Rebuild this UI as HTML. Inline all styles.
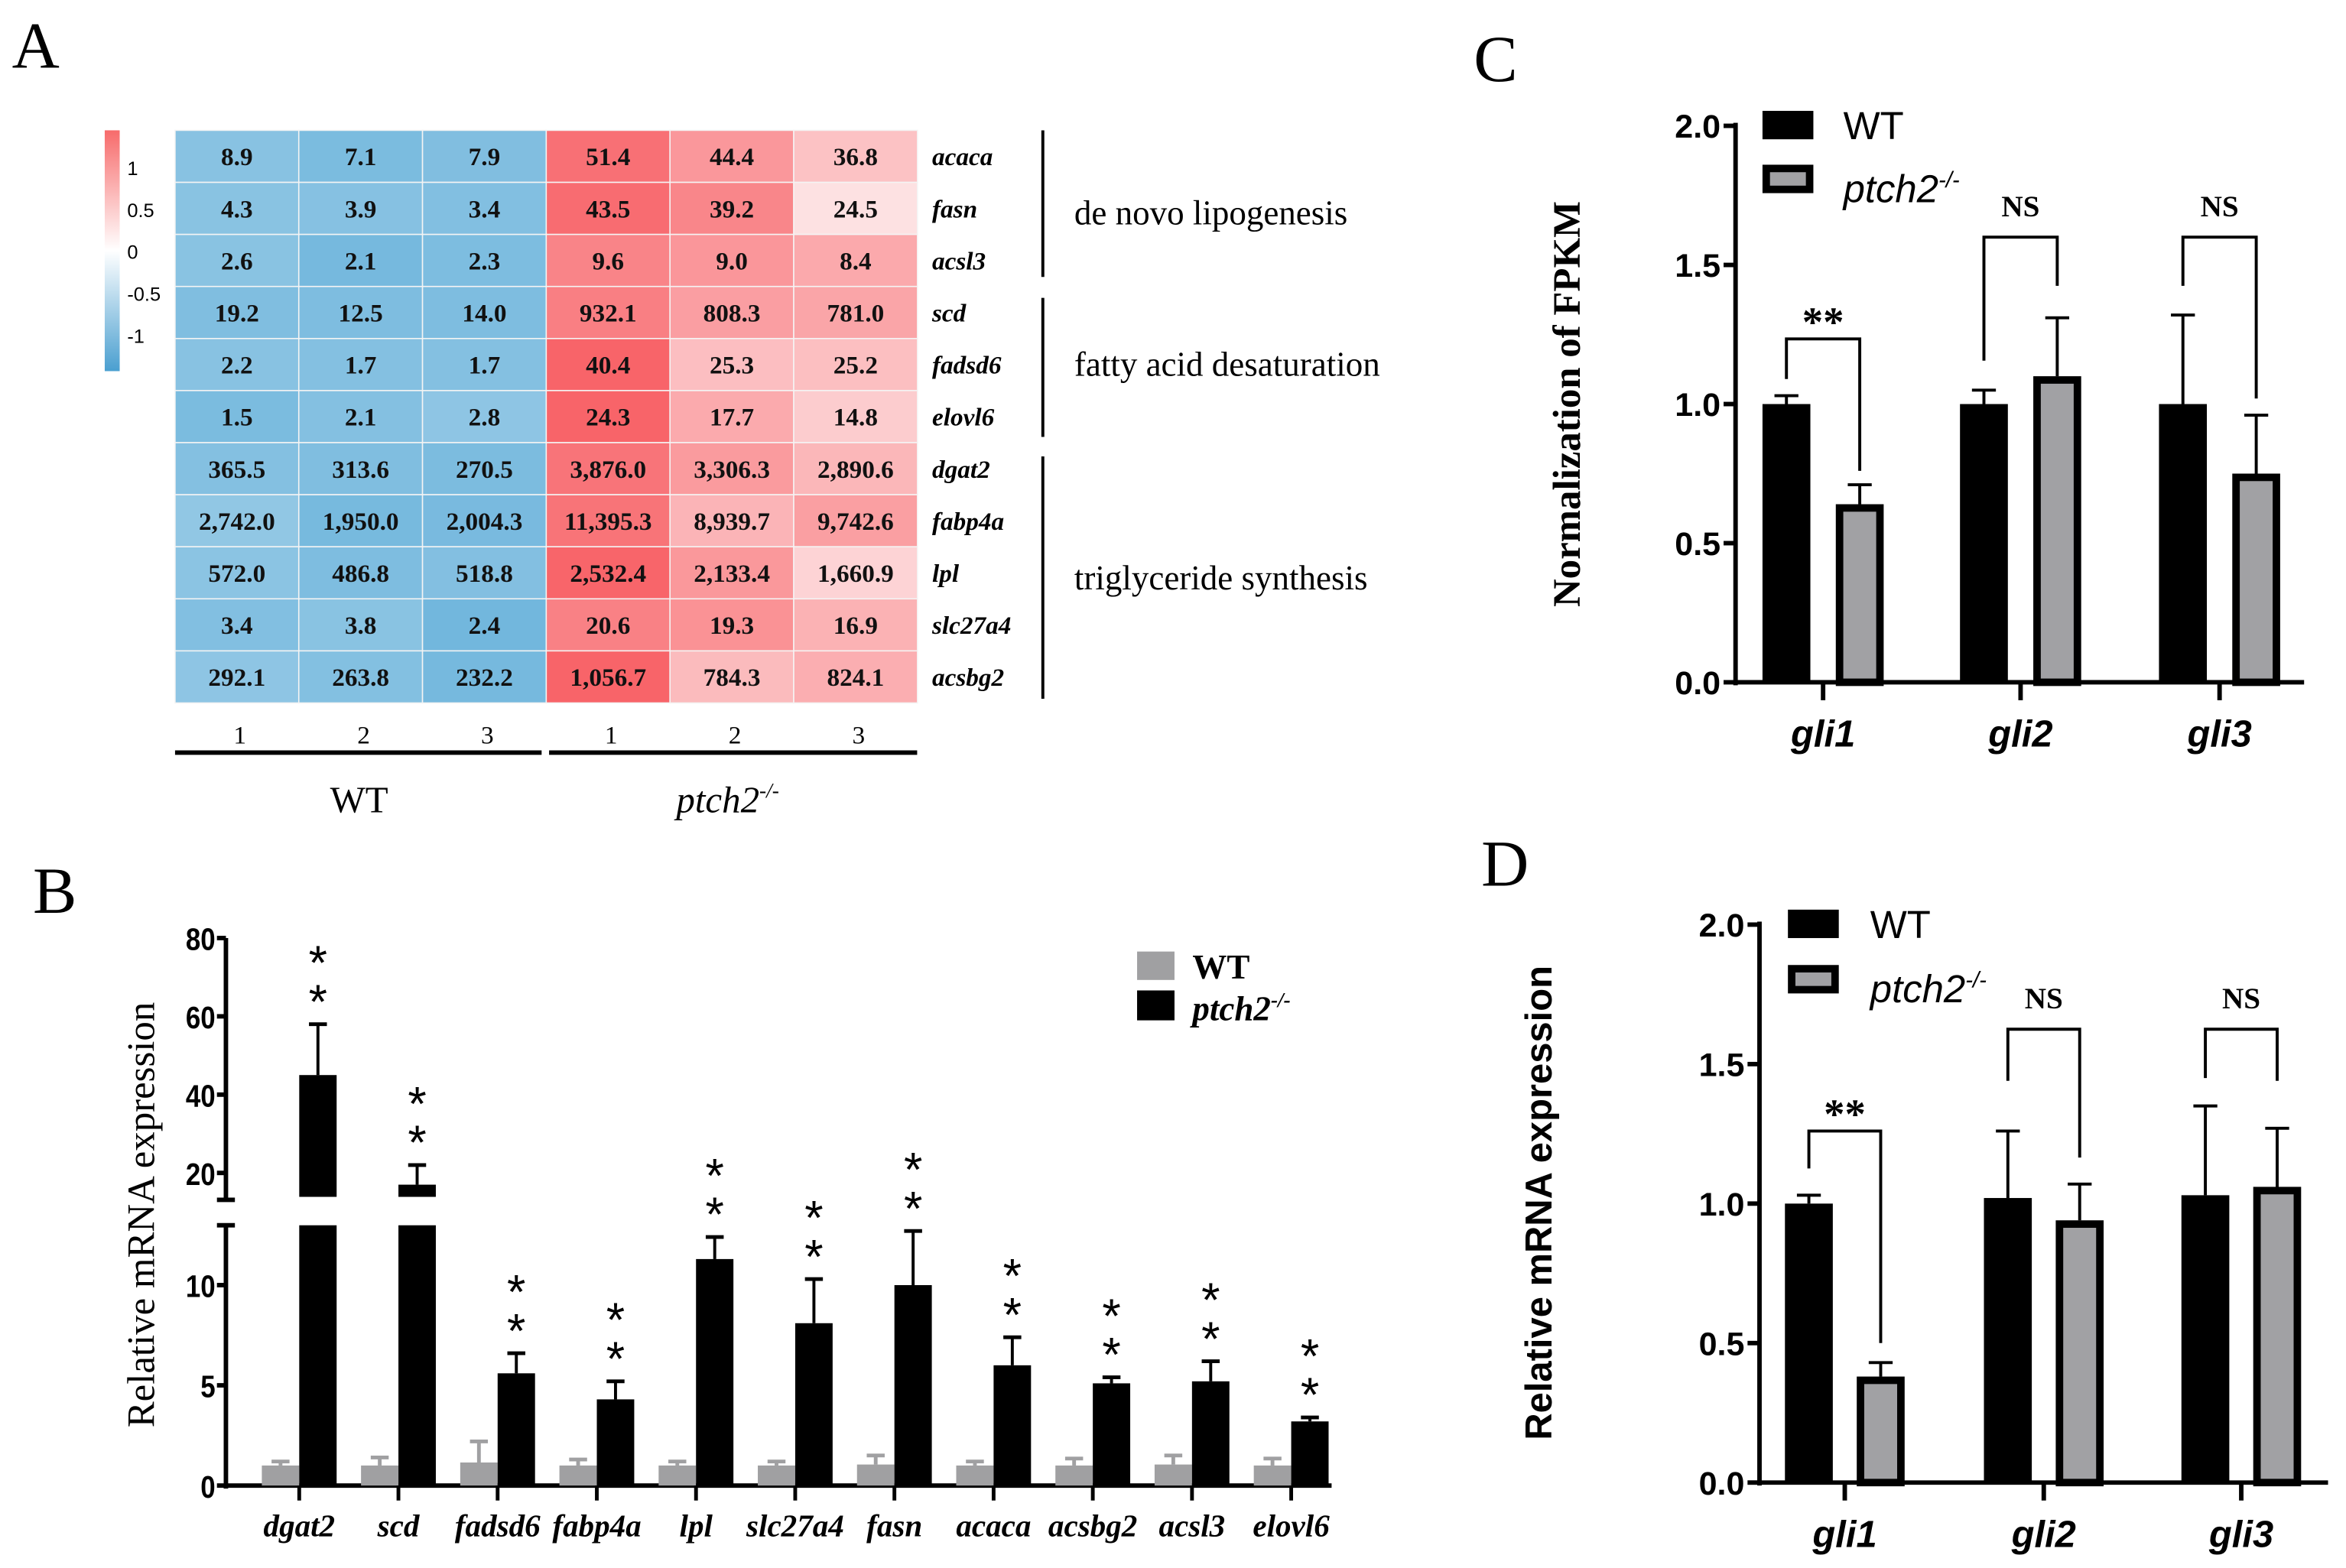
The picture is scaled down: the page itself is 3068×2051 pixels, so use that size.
<!DOCTYPE html>
<html><head><meta charset="utf-8"><style>
html,body{margin:0;padding:0;background:#fff}
svg{display:block}
.serif{font-family:"Liberation Serif",serif}
.sans{font-family:"Liberation Sans",sans-serif}
</style></head><body>
<svg id="fig" width="3068" height="2051" viewBox="0 0 1568 1048" xmlns="http://www.w3.org/2000/svg">
<rect width="1568" height="1048" fill="#fff"/>
<text class="serif" x="8" y="45" font-size="44">A</text>
<text class="serif" x="22" y="610" font-size="44">B</text>
<text class="serif" x="985" y="54" font-size="44">C</text>
<text class="serif" x="990" y="592" font-size="44">D</text>
<defs><linearGradient id="cbar" x1="0" y1="0" x2="0" y2="1">
<stop offset="0" stop-color="#f76b6b"/><stop offset="0.5" stop-color="#ffffff"/><stop offset="1" stop-color="#4a9fd0"/></linearGradient></defs>
<g id="A"></g>
<g id="B"></g>
<g id="C"></g>
<g id="D"></g>
</svg>
<script>
// ---------- Panel A data ----------
const heatGenes=["acaca","fasn","acsl3","scd","fadsd6","elovl6","dgat2","fabp4a","lpl","slc27a4","acsbg2"];
const heatWT1=[8.9,4.3,2.6,19.2,2.2,1.5,365.5,2742.0,572.0,3.4,292.1];
const heatWT2=[7.1,3.9,2.1,12.5,1.7,2.1,313.6,1950.0,486.8,3.8,263.8];
const heatWT3=[7.9,3.4,2.3,14.0,1.7,2.8,270.5,2004.3,518.8,2.4,232.2];
const heatKO1=[51.4,43.5,9.6,932.1,40.4,24.3,3876.0,11395.3,2532.4,20.6,1056.7];
const heatKO2=[44.4,39.2,9.0,808.3,25.3,17.7,3306.3,8939.7,2133.4,19.3,784.3];
const heatKO3=[36.8,24.5,8.4,781.0,25.2,14.8,2890.6,9742.6,1660.9,16.9,824.1];
const colLabels=["1","2","3","1","2","3"];
const cbTicks=["1","0.5","0","-0.5","-1"];
// ---------- Panel B data ----------
const bGenes=["dgat2","scd","fadsd6","fabp4a","lpl","slc27a4","fasn","acaca","acsbg2","acsl3","elovl6"];
const bWT=[1.0,1.0,1.15,1.0,1.0,1.0,1.05,1.0,1.0,1.05,1.0];
const bWTerr=[1.2,1.4,2.2,1.3,1.2,1.2,1.5,1.2,1.35,1.5,1.35];
const bKO=[45,17,5.6,4.3,11.3,8.1,10.0,6.0,5.1,5.2,3.2];
const bKOerr=[58,22,6.6,5.2,12.4,10.3,12.7,7.4,5.4,6.2,3.4];
const bTicksLow=[0,5,10];
const bTicksHigh=[20,40,60,80];
// ---------- Panel C data ----------
const gliGenes=["gli1","gli2","gli3"];
const cWT=[1.0,1.0,1.0], cWTerr=[1.03,1.05,1.32];
const cKO=[0.64,1.1,0.75], cKOerr=[0.71,1.31,0.96];
const cSig=["**","NS","NS"];
// ---------- Panel D data ----------
const dWT=[1.0,1.02,1.03], dWTerr=[1.03,1.26,1.35];
const dKO=[0.38,0.94,1.06], dKOerr=[0.43,1.07,1.27];
const dSig=["**","NS","NS"];
const yTicksCD=[0,0.5,1.0,1.5,2.0];

const NS="http://www.w3.org/2000/svg";
function el(tag,attrs,parent,text){const e=document.createElementNS(NS,tag);for(const k in attrs)e.setAttribute(k,attrs[k]);if(text!==undefined)e.textContent=text;parent.appendChild(e);return e;}
function fmt(v){return v.toLocaleString("en-US",{minimumFractionDigits:1,maximumFractionDigits:1});}

// ===== Panel A =====
(function(){
const g=document.getElementById("A");
const x0=117,y0=87,cw=82.7,rh=34.8;
const cols=[heatWT1,heatWT2,heatWT3,heatKO1,heatKO2,heatKO3];
function col(z){
 if(z>=0){const t=Math.min(1,z/1.35);const r=255+(248-255)*t,gg=255+(100-255)*t,b=255+(105-255)*t;return `rgb(${r|0},${gg|0},${b|0})`;}
 const t=Math.min(1,-z/1.1);const r=255+(100-255)*t,gg=255+(176-255)*t,b=255+(218-255)*t;return `rgb(${r|0},${gg|0},${b|0})`;}
heatGenes.forEach((gene,i)=>{
 const vals=cols.map(c=>c[i]);
 const m=vals.reduce((a,b)=>a+b)/6;const sd=Math.sqrt(vals.reduce((a,b)=>a+(b-m)*(b-m),0)/5);
 cols.forEach((c,j)=>{
  const z=(vals[j]-m)/sd;
  const r=el("rect",{x:x0+j*cw,y:y0+i*rh,width:cw,height:rh,fill:col(z),stroke:"#f4f4f4","stroke-width":0.8},g);
  
  
  const t=el("text",{x:x0+j*cw+cw/2,y:y0+i*rh+rh/2+6,"text-anchor":"middle","font-size":17,"font-weight":"bold",class:"serif",fill:"#111"},g,fmt(c[i]));
  
  
 });
 const gl=el("text",{x:623,y:y0+i*rh+rh/2+6,"font-size":17,"font-weight":"bold","font-style":"italic",class:"serif"},g,gene);
 
 
});
const cb=el("rect",{x:70,y:87,width:10,height:161,fill:"url(#cbar)"},g);


cbTicks.forEach((t,i)=>{const tt=el("text",{x:85,y:117+i*28,"font-size":13,class:"sans"},g,t);
 
 });
colLabels.forEach((t,j)=>{const tt=el("text",{x:x0+j*cw+cw/2+2,y:497,"text-anchor":"middle","font-size":17,class:"serif"},g,t);
 
 });
el("line",{x1:117,x2:362,y1:503,y2:503,stroke:"#000","stroke-width":3},g);
el("line",{x1:367,x2:613,y1:503,y2:503,stroke:"#000","stroke-width":3},g);
el("text",{x:240,y:543,"text-anchor":"middle","font-size":25,class:"serif"},g,"WT");
const ko=el("text",{x:452,y:543,"font-size":25,"font-style":"italic",class:"serif"},g);
ko.innerHTML='ptch2<tspan dy="-10" font-size="14">-/-</tspan>';
[[87,185,"de novo lipogenesis",150],[199,292,"fatty acid desaturation",251],[305,467,"triglyceride synthesis",394]].forEach(b=>{
 const l=el("line",{x1:697,x2:697,y1:b[0],y2:b[1],stroke:"#000","stroke-width":2},g);
 
 const t=el("text",{x:718,y:b[3],"font-size":23,class:"serif"},g,b[2]);
 
 
});
})();

// ===== Panel B =====
(function(){
const g=document.getElementById("B");
const ax=151,base=993;
function yv(v){if(v<=13) return base-v*13.4; return 784-(v-20)*2.617;}
const x0=200,step=66.3,bw=25;
function xc(i){return x0+i*step;}
el("line",{x1:ax,x2:ax,y1:627,y2:802,stroke:"#000","stroke-width":3},g);
el("line",{x1:ax,x2:ax,y1:819,y2:995,stroke:"#000","stroke-width":3},g);
el("line",{x1:ax-6,x2:ax+6,y1:802,y2:802,stroke:"#000","stroke-width":3},g);
el("line",{x1:ax-6,x2:ax+6,y1:819,y2:819,stroke:"#000","stroke-width":3},g);
el("line",{x1:ax,x2:890,y1:base,y2:base,stroke:"#000","stroke-width":3},g);
bTicksLow.concat(bTicksHigh).forEach(v=>{
 const y=yv(v);
 el("line",{x1:ax-6,x2:ax,y1:y,y2:y,stroke:"#000","stroke-width":3},g);
 const t=el("text",{x:ax-7,y:y+8,"text-anchor":"end","font-size":21,"font-weight":"bold",class:"sans",transform:`translate(${ax-7},0) scale(0.85,1) translate(${-(ax-7)},0)`},g,String(v));
 
 
});
const yt=el("text",{transform:"translate(103,812) rotate(-90)","text-anchor":"middle","font-size":26,class:"serif"},g,"Relative mRNA expression");


bGenes.forEach((gene,i)=>{
 const c=xc(i);
 el("line",{x1:c-bw/2,x2:c-bw/2,y1:yv(bWT[i]),y2:yv(bWTerr[i]),stroke:"#a0a0a2","stroke-width":2.5},g);
 el("line",{x1:c-bw/2-6,x2:c-bw/2+6,y1:yv(bWTerr[i]),y2:yv(bWTerr[i]),stroke:"#a0a0a2","stroke-width":2.5},g);
 const w=el("rect",{x:c-bw,y:yv(bWT[i]),width:bw,height:base-yv(bWT[i]),fill:"#a0a0a2"},g);
 
 
 const kx=c+bw/2;
 el("line",{x1:kx,x2:kx,y1:yv(bKO[i]),y2:yv(bKOerr[i]),stroke:"#000","stroke-width":2},g);
 el("line",{x1:kx-6,x2:kx+6,y1:yv(bKOerr[i]),y2:yv(bKOerr[i]),stroke:"#000","stroke-width":2.5},g);
 if(bKO[i]>13){
  const k1=el("rect",{x:c,y:yv(bKO[i]),width:bw,height:800-yv(bKO[i]),fill:"#000"},g);
  
  
  el("rect",{x:c,y:819,width:bw,height:base-819,fill:"#000"},g);
 } else {
  const k=el("rect",{x:c,y:yv(bKO[i]),width:bw,height:base-yv(bKO[i]),fill:"#000"},g);
  
  
 }
 const sy=yv(bKOerr[i]);
 el("text",{x:kx,y:sy-30,"text-anchor":"middle","font-size":32,class:"sans"},g,"*");
 el("text",{x:kx,y:sy-4,"text-anchor":"middle","font-size":32,class:"sans"},g,"*");
 el("line",{x1:c,x2:c,y1:base,y2:base+10,stroke:"#000","stroke-width":2.5},g);
 const xl=el("text",{x:c,y:1027,"text-anchor":"middle","font-size":21,"font-weight":"bold","font-style":"italic",class:"serif"},g,gene);
 
 
});
el("rect",{x:760,y:636,width:25,height:19,fill:"#a0a0a2"},g);
el("rect",{x:760,y:662,width:25,height:20,fill:"#000"},g);
el("text",{x:797,y:654,"font-size":23,"font-weight":"bold",class:"serif"},g,"WT");
const lk=el("text",{x:797,y:682,"font-size":23,"font-weight":"bold","font-style":"italic",class:"serif"},g);

lk.innerHTML='ptch2<tspan dy="-9" font-size="14">-/-</tspan>';
})();

// ===== Panels C & D =====
function gliChart(id,cfg,wt,wtErr,ko,koErr,sig,br){
 const g=document.getElementById(id);
 const ax=cfg.ax,y0=cfg.y0,y2=cfg.y2;
 const y=v=>y0-(y0-y2)*v/2;
 const xs=cfg.xs;
 el("line",{x1:ax,x2:ax,y1:y2-2,y2:y0+2,stroke:"#000","stroke-width":3},g);
 el("line",{x1:ax,x2:cfg.xend,y1:y0,y2:y0,stroke:"#000","stroke-width":3},g);
 yTicksCD.forEach(v=>{
  el("line",{x1:ax-8,x2:ax,y1:y(v),y2:y(v),stroke:"#000","stroke-width":3},g);
  const t=el("text",{x:ax-10,y:y(v)+8,"text-anchor":"end","font-size":22,"font-weight":"bold",class:"sans"},g,v.toFixed(1));
  
  
 });
 const tt=el("text",{transform:`translate(${cfg.tx},${cfg.ty}) rotate(-90)`,"text-anchor":"middle","font-size":cfg.tfs,"font-weight":"bold",class:cfg.tcls},g,cfg.title);
 
 
 const bw=32;
 gliGenes.forEach((gene,i)=>{
  const bx=xs[i],gx=bx+cfg.gap;
  el("line",{x1:bx+bw/2,x2:bx+bw/2,y1:y(wt[i]),y2:y(wtErr[i]),stroke:"#000","stroke-width":2},g);
  el("line",{x1:bx+bw/2-8,x2:bx+bw/2+8,y1:y(wtErr[i]),y2:y(wtErr[i]),stroke:"#000","stroke-width":2},g);
  const w=el("rect",{x:bx,y:y(wt[i]),width:bw,height:y0-y(wt[i]),fill:"#000"},g);
  
  
  el("line",{x1:gx+bw/2,x2:gx+bw/2,y1:y(ko[i]),y2:y(koErr[i]),stroke:"#000","stroke-width":2},g);
  el("line",{x1:gx+bw/2-8,x2:gx+bw/2+8,y1:y(koErr[i]),y2:y(koErr[i]),stroke:"#000","stroke-width":2},g);
  const k=el("rect",{x:gx+2.5,y:y(ko[i])+2.5,width:bw-5,height:y0-y(ko[i])-2.5,fill:"#a1a1a4",stroke:"#000","stroke-width":5},g);
  
  
  const b=br[i];
  const lx=bx+bw/2,rx=gx+bw/2;
  const p=el("polyline",{points:`${lx},${y(b[1])} ${lx},${y(b[0])} ${rx},${y(b[0])} ${rx},${y(b[2])}`,fill:"none",stroke:"#000","stroke-width":2},g);
  
  
  const st=el("text",{x:(lx+rx)/2,y:sig[i]==="**"?y(b[0])-2:y(b[0])-14,"text-anchor":"middle","font-size":sig[i]==="**"?28:20,"font-weight":"bold",class:"serif"},g,sig[i]);
  
  
  const cx=(bx+gx+bw)/2;
  el("line",{x1:cx,x2:cx,y1:y0,y2:y0+12,stroke:"#000","stroke-width":3},g);
  const xl=el("text",{x:cx,y:y0+43,"text-anchor":"middle","font-size":25,"font-weight":"bold","font-style":"italic",class:"sans"},g,gene);
  
  
 });
 const L=cfg.leg;
 el("rect",{x:L[0],y:L[1],width:34,height:19,fill:"#000"},g);
 el("rect",{x:L[0]+2.5,y:L[2]+2.5,width:29,height:14,fill:"#a1a1a4",stroke:"#000","stroke-width":5},g);
 el("text",{x:L[3],y:L[1]+19,"font-size":26,class:"sans"},g,"WT");
 const lk=el("text",{x:L[3],y:L[2]+25,"font-size":26,"font-style":"italic",class:"sans"},g);
 
 lk.innerHTML='ptch2<tspan dy="-10" font-size="15">-/-</tspan>';
}
gliChart("C",{ax:1160,y0:456,y2:84,xend:1540,xs:[1178,1310,1443],gap:49,tx:1056,ty:270,tfs:26,tcls:"serif",title:"Normalization of FPKM",leg:[1178,74,110,1232]},
 cWT,cWTerr,cKO,cKOerr,cSig,[[1.234,1.09,0.76],[1.6,1.156,1.425],[1.6,1.425,1.02]]);
gliChart("D",{ax:1176,y0:991,y2:618,xend:1556,xs:[1193,1326,1458],gap:48,tx:1037,ty:804,tfs:25,tcls:"sans",title:"Relative mRNA expression",leg:[1195,608,645,1250]},
 dWT,dWTerr,dKO,dKOerr,dSig,[[1.26,1.126,0.5],[1.625,1.44,1.165],[1.625,1.45,1.44]]);
</script>
</body></html>
